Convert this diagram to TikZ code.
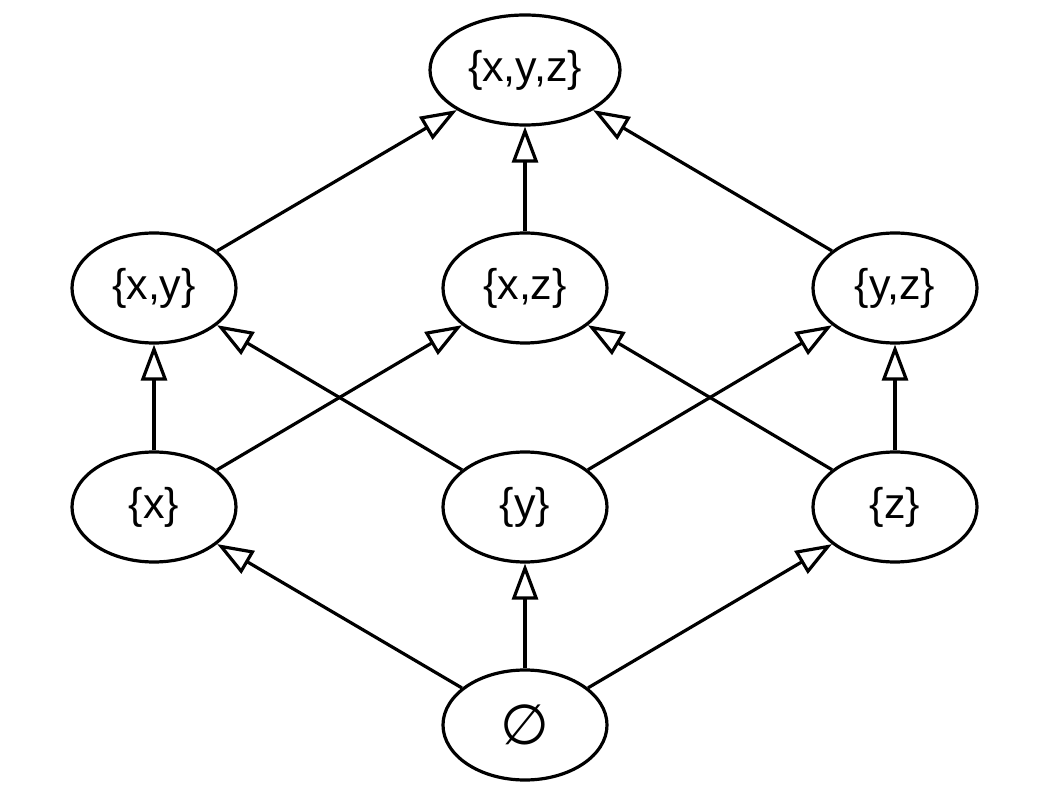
\documentclass[tikz,border=0pt]{standalone}
\usepackage{fontspec}
\setmainfont{Liberation Sans}
\newfontfamily\symfont{DejaVu Sans}
\usetikzlibrary{shapes.geometric,arrows.meta}
\begin{document}
\begin{tikzpicture}[x=1pt,y=-1pt,
  setnode/.style={ellipse,draw,line width=3.2pt,minimum width=164pt,minimum height=110pt,inner sep=0pt,font=\fontsize{43}{50}\selectfont},
  edge/.style={line width=3.2pt,-{Triangle[open,length=36pt,width=26pt]}}]
\useasboundingbox (0,0) rectangle (1050,799);
\node[setnode,minimum width=190pt] (xyz) at (525,70) {\{x,y,z\}};
\node[setnode] (xy) at (154,288) {\{x,y\}};
\node[setnode] (xz) at (525,288) {\{x,z\}};
\node[setnode] (yz) at (895,288) {\{y,z\}};
\node[setnode] (x) at (154,507) {\{x\}};
\node[setnode] (y) at (525,507) {\{y\}};
\node[setnode] (z) at (895,507) {\{z\}};
\node[setnode,font=\fontsize{56}{60}\selectfont] (e) at (525,725) {\symfont ∅};
\draw[edge] (xy) -- (xyz);
\draw[edge] (xz) -- (xyz);
\draw[edge] (yz) -- (xyz);
\draw[edge] (x) -- (xy);
\draw[edge] (x) -- (xz);
\draw[edge] (y) -- (xy);
\draw[edge] (y) -- (yz);
\draw[edge] (z) -- (xz);
\draw[edge] (z) -- (yz);
\draw[edge] (e) -- (x);
\draw[edge] (e) -- (y);
\draw[edge] (e) -- (z);
\end{tikzpicture}
\end{document}
